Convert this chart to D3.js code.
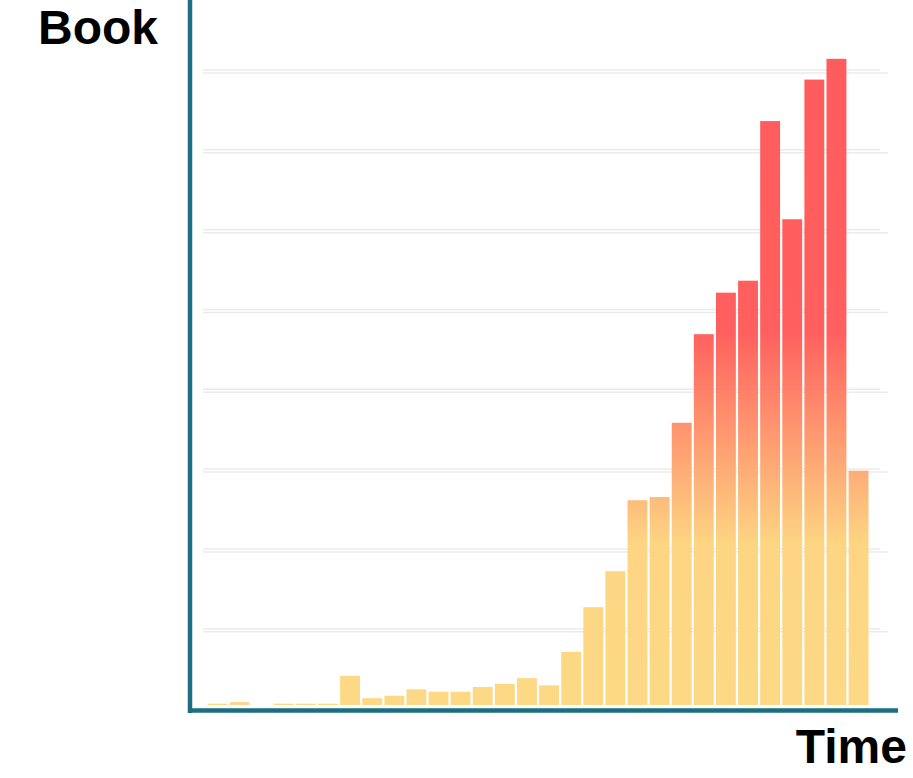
<!DOCTYPE html>
<html>
<head>
<meta charset="utf-8">
<script src="https://cdn.jsdelivr.net/npm/d3@7"></script>
<style>
  html, body { margin: 0; padding: 0; background: #fff; }
</style>
</head>
<body>
<div id="chart"></div>
<script>
// periods along the time axis (no labels are shown)
const periods = d3.range(1, 31);
const counts = [6, 8, 0, 6, 6, 6, 41, 13, 16, 24, 21, 21, 27, 31, 38, 29,
  71, 127, 172, 261, 265, 358, 469, 521, 536, 736, 613, 788, 814, 298];
const gridTicks = [100, 200, 300, 400, 500, 600, 700, 800];

const svgWidth = 913;
const svgHeight = 778;

const svg = d3.select("#chart")
  .append("svg")
  .attr("width", svgWidth)
  .attr("height", svgHeight)
  .style("font-family", "'Liberation Sans', Arial, sans-serif");

const x = d3.scaleBand()
  .domain(periods)
  .range([207.5, 868.5])
  .paddingInner(0.1);

const y = d3.scaleLinear()
  .domain([0, 800])
  .range([708.5, 70]);

const barBase = 705;

// gradient runs over the whole plot height, yellow at the bottom to red at the top
const grad = svg.append("defs").append("linearGradient")
  .attr("id", "barGrad")
  .attr("gradientUnits", "userSpaceOnUse")
  .attr("x1", 0).attr("x2", 0)
  .attr("y1", barBase).attr("y2", 60);
grad.append("stop").attr("offset", "0%").attr("stop-color", "#fdd985");
grad.append("stop").attr("offset", "25%").attr("stop-color", "#fdd583");
grad.append("stop").attr("offset", "58%").attr("stop-color", "#ff5f5e");
grad.append("stop").attr("offset", "100%").attr("stop-color", "#ff5d5d");

// grid (drawn twice, slightly offset, as in the original)
const grid = svg.append("g");
grid.selectAll("line.a")
  .data(gridTicks)
  .join("line")
  .attr("class", "a")
  .attr("x1", 203).attr("x2", 880)
  .attr("y1", d => y(d)).attr("y2", d => y(d))
  .attr("stroke", "#ebebeb")
  .attr("stroke-width", 1.5);
grid.selectAll("line.b")
  .data(gridTicks)
  .join("line")
  .attr("class", "b")
  .attr("x1", 203).attr("x2", 888)
  .attr("y1", d => y(d) + 3).attr("y2", d => y(d) + 3)
  .attr("stroke", "#ebebeb")
  .attr("stroke-width", 1.5);

// bars
svg.append("g")
  .selectAll("rect")
  .data(counts)
  .join("rect")
  .attr("x", (d, i) => x(periods[i]))
  .attr("width", x.bandwidth())
  .attr("y", d => Math.min(y(d), barBase))
  .attr("height", d => Math.max(0, barBase - y(d)))
  .attr("fill", "url(#barGrad)");

// axes
svg.append("line")
  .attr("x1", 190).attr("x2", 190)
  .attr("y1", 0).attr("y2", 713)
  .attr("stroke", "#1d6e82")
  .attr("stroke-width", 4.5);

svg.append("line")
  .attr("x1", 188).attr("x2", 898)
  .attr("y1", 710.5).attr("y2", 710.5)
  .attr("stroke", "#1d6e82")
  .attr("stroke-width", 4.5);

// axis titles
svg.append("text")
  .attr("x", 98)
  .attr("y", 44)
  .attr("text-anchor", "middle")
  .attr("font-size", "48px")
  .attr("font-weight", "bold")
  .attr("fill", "#000")
  .text("Book");

svg.append("text")
  .attr("x", 907)
  .attr("y", 763)
  .attr("text-anchor", "end")
  .attr("font-size", "48px")
  .attr("font-weight", "bold")
  .attr("fill", "#000")
  .text("Time");
</script>
</body>
</html>
